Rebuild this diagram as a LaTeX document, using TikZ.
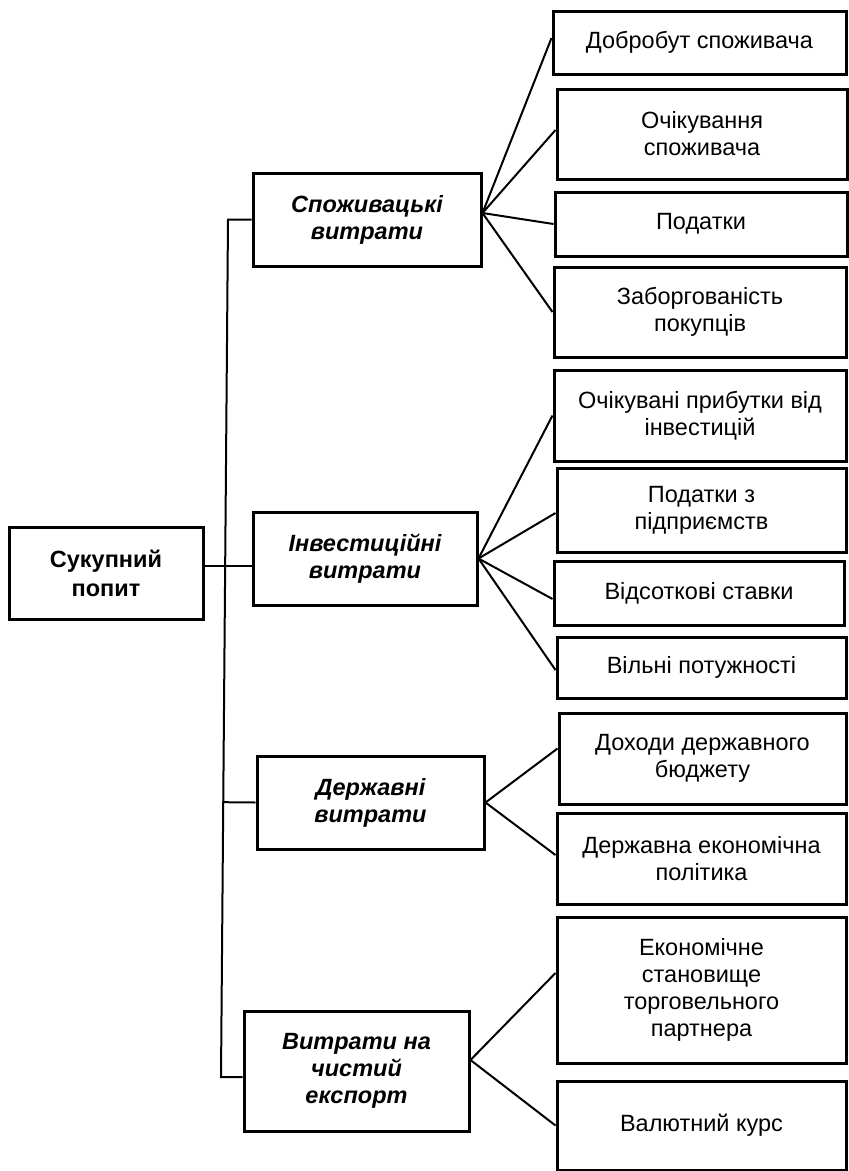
\documentclass[tikz,border=0pt]{standalone}
\usepackage{fontspec}
\setmainfont{Liberation Sans}
\usetikzlibrary{calc}
\begin{document}
\begin{tikzpicture}[x=1pt,y=-1pt,
  box/.style={draw, line width=3pt, inner sep=0pt, align=center,
    font=\fontsize{23.5}{27}\selectfont},
  leaf/.style={box},
  parent/.style={box, font=\fontsize{23.5}{27}\selectfont\bfseries\itshape},
  root/.style={box, font=\fontsize{23.5}{29}\selectfont\bfseries},
  link/.style={line width=2pt}]
\useasboundingbox (0,0) rectangle (849,1171);
% root
\node[root, minimum width=194pt, minimum height=92pt] (sp) at (106,573) {Сукупний\\попит};
% parents
\node[parent, minimum width=228pt, minimum height=93pt] (c1) at (367,219.5) {Споживацькі\\витрати};
\node[parent, minimum width=224pt, minimum height=93pt] (c2) at (365,558.5) {Інвестиційні\\витрати};
\node[parent, minimum width=227pt, minimum height=93pt] (c3) at (370.5,802.5) {Державні\\витрати};
\node[parent, minimum width=225pt, minimum height=120pt] (c4) at (356.5,1071) {Витрати на\\чистий\\експорт};
% leaves
\node[leaf, minimum width=293pt, minimum height=63pt] (a1) at (699.5,42.5) {Добробут споживача};
\node[leaf, minimum width=290pt, minimum height=90pt] (a2) at (702,134) {Очікування\\споживача};
\node[leaf, minimum width=292pt, minimum height=64pt] (a3) at (701,224) {Податки};
\node[leaf, minimum width=292pt, minimum height=90pt] (a4) at (700,312) {Заборгованість\\покупців};
\node[leaf, minimum width=292pt, minimum height=91pt] (b1) at (700,415.5) {Очікувані прибутки від\\інвестицій};
\node[leaf, minimum width=289pt, minimum height=84pt] (b2) at (701.5,510) {Податки з\\підприємств};
\node[leaf, minimum width=290pt, minimum height=64pt] (b3) at (699,593) {Відсоткові ставки};
\node[leaf, minimum width=289pt, minimum height=61pt] (b4) at (701.5,667.5) {Вільні потужності};
\node[leaf, minimum width=287pt, minimum height=91pt] (d1) at (702.5,758.5) {Доходи державного\\бюджету};
\node[leaf, minimum width=289pt, minimum height=91pt] (d2) at (701.5,858.5) {Державна економічна\\політика};
\node[leaf, minimum width=289pt, minimum height=146pt] (e1) at (701.5,990) {Економічне\\становище\\торговельного\\партнера};
\node[leaf, minimum width=289pt, minimum height=89pt] (e2) at (701.5,1125.5) {Валютний курс};
% trunk
\coordinate (t1) at (228,219.5);
\coordinate (t4) at (221,1077);
\draw[link] (c1.west) -- (t1) -- (t4) -- ([yshift=-6pt]c4.west -| t4) -- ([yshift=-6pt]c4.west);
\draw[link] (c3.west) -- ($(t1)!(c3.west)!(t4)$);
\coordinate (j) at ([yshift=7pt]sp.east);
\draw[link] (j) -- (j -| c2.west);
% fans
\coordinate (o1) at ([yshift=6.5pt]c1.east);
\draw[link] (o1) -- ([yshift=4.5pt]a1.west);
\draw[link] (o1) -- ([yshift=4pt]a2.west);
\draw[link] (o1) -- (a3.west);
\draw[link] (o1) -- (a4.west);
\coordinate (o2) at (c2.east);
\draw[link] (o2) -- (b1.west);
\draw[link] (o2) -- ([yshift=-3pt]b2.west);
\draw[link] (o2) -- ([yshift=-6pt]b3.west);
\draw[link] (o2) -- ([yshift=-2.5pt]b4.west);
\coordinate (o3) at (c3.east);
\draw[link] (o3) -- ([yshift=10pt]d1.west);
\draw[link] (o3) -- ([yshift=3.5pt]d2.west);
\coordinate (o4) at ([yshift=11pt]c4.east);
\draw[link] (o4) -- ([yshift=17pt]e1.west);
\draw[link] (o4) -- (e2.west);
\end{tikzpicture}
\end{document}
